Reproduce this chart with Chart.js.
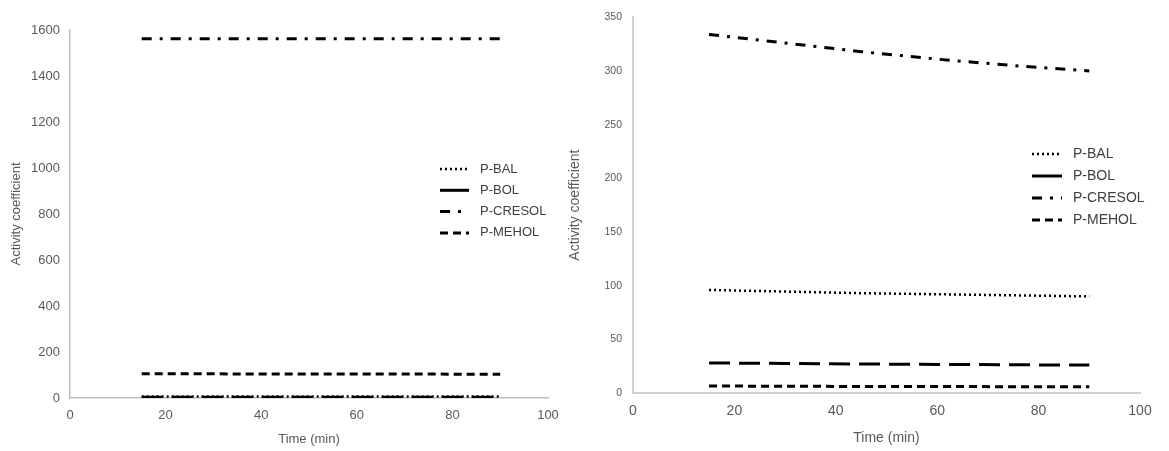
<!DOCTYPE html>
<html>
<head>
<meta charset="utf-8">
<script src="https://cdn.jsdelivr.net/npm/chart.js@4/dist/chart.umd.min.js"></script>
<style>
  html, body { margin: 0; padding: 0; background: #fff; }
  #wrap { position: relative; width: 1169px; height: 451px; overflow: hidden; }
  .box { position: absolute; top: 0; height: 451px; }
  #leftBox { left: 0; width: 580px; }
  #rightBox { left: 560px; width: 609px; }
</style>
</head>
<body>
<div id="wrap">
  <div class="box" id="leftBox"><canvas id="c1" width="580" height="451"></canvas></div>
  <div class="box" id="rightBox"><canvas id="c2" width="609" height="451"></canvas></div>
</div>
<script>
// ---- data ----
const seriesNames = ["P-BAL", "P-BOL", "P-CRESOL", "P-MEHOL"];
const times = [15, 30, 45, 60, 75, 90];

// left panel
const leftBAL    = [6, 6, 6, 6, 6, 6];
const leftBOL    = [3, 3, 3, 3, 3, 3];
const leftCRESOL = [1562, 1562, 1562, 1562, 1562, 1562];
const leftMEHOL  = [105, 105, 104, 104, 104, 103];

// right panel
const rightBAL    = [96, 94.5, 93, 92, 91, 90];
const rightBOL    = [28, 27.5, 27, 26.6, 26.3, 26];
const rightCRESOL = [334, 326, 318, 311, 305, 300];
const rightMEHOL  = [6.5, 6.3, 6.1, 6, 5.9, 5.8];

const xTicks = [0, 20, 40, 60, 80, 100];
const leftYTicks = [0, 200, 400, 600, 800, 1000, 1200, 1400, 1600];
const rightYTicks = [0, 50, 100, 150, 200, 250, 300, 350];

// ---- styles ----
const dashes = {
  "P-BAL": [2, 3],
  "P-BOL": [21, 9],
  "P-CRESOL": [10, 8, 3, 8],
  "P-MEHOL": [8, 5]
};

function mk(values) { return times.map((t, i) => ({ x: t, y: values[i] })); }
function datasets(arrs) {
  return seriesNames.map((n, i) => ({
    label: n,
    data: mk(arrs[i]),
    borderColor: '#000',
    borderWidth: n === 'P-BAL' ? 2.5 : 3,
    borderDash: dashes[n],
    borderCapStyle: 'butt',
    pointRadius: 0,
    fill: false,
    tension: 0
  }));
}

const legendPlugin = {
  id: 'customLegend',
  afterDraw(chart, args, opts) {
    const ctx = chart.ctx;
    ctx.save();
    chart.data.datasets.forEach((ds, i) => {
      const y = opts.y + i * opts.gap;
      ctx.beginPath();
      ctx.strokeStyle = ds.borderColor;
      ctx.lineWidth = ds.borderWidth;
      ctx.lineCap = 'butt';
      ctx.setLineDash(ds.label === 'P-BOL' ? [] : ds.borderDash);
      ctx.moveTo(opts.x, y);
      ctx.lineTo(opts.x + opts.len, y);
      ctx.stroke();
      ctx.setLineDash([]);
      ctx.fillStyle = '#404040';
      ctx.font = opts.size + 'px "Liberation Sans", Arial, sans-serif';
      ctx.textBaseline = 'middle';
      ctx.textAlign = 'left';
      ctx.fillText(ds.label, opts.x + opts.len + opts.textGap, y);
    });
    ctx.restore();
  }
};

function makeChart(id, arrs, cfg) {
  return new Chart(document.getElementById(id), {
    type: 'line',
    data: { datasets: datasets(arrs) },
    plugins: [legendPlugin],
    options: {
      responsive: false,
      animation: false,
      events: [],
      layout: { padding: { left: 0, right: cfg.padRight, top: cfg.padTop, bottom: 0 } },
      plugins: {
        legend: { display: false },
        tooltip: { enabled: false },
        customLegend: cfg.legend
      },
      scales: {
        x: {
          type: 'linear',
          min: 0, max: 100,
          afterBuildTicks: (s) => { s.ticks = xTicks.map(v => ({ value: v })); },
          afterFit: (s) => { s.height = cfg.xHeight; },
          grid: { display: false, drawTicks: false },
          border: { display: true, color: cfg.axisColor, width: cfg.axisWidth },
          ticks: { color: '#595959', padding: cfg.xTickPad, callback: (v) => String(v), font: { family: '"Liberation Sans", Arial', size: cfg.xTickSize } },
          title: { display: true, text: 'Time (min)', color: '#595959', padding: { top: 0, bottom: cfg.xTitlePad }, font: { family: '"Liberation Sans", Arial', size: cfg.titleSize } }
        },
        y: {
          type: 'linear',
          min: 0, max: cfg.yMax,
          afterBuildTicks: (s) => { s.ticks = cfg.yTicks.map(v => ({ value: v })); },
          afterFit: (s) => { s.width = cfg.yWidth; },
          grid: { display: false, drawTicks: false },
          border: { display: true, color: cfg.axisColor, width: cfg.axisWidth },
          ticks: { color: '#595959', padding: cfg.yTickPad, callback: (v) => String(v), font: { family: '"Liberation Sans", Arial', size: cfg.yTickSize } },
          title: { display: true, text: 'Activity coefficient', color: '#595959', padding: { top: cfg.yTitlePad, bottom: 0 }, font: { family: '"Liberation Sans", Arial', size: cfg.titleSize } }
        }
      }
    }
  });
}

makeChart('c1', [leftBAL, leftBOL, leftCRESOL, leftMEHOL], {
  padRight: 32, padTop: 30, xHeight: 53, yWidth: 70, yMax: 1600, yTicks: leftYTicks,
  axisColor: '#bfbfbf', axisWidth: 1.5,
  xTickPad: 10, xTickSize: 13, yTickPad: 10, yTickSize: 13, titleSize: 13,
  xTitlePad: 4, yTitlePad: 9,
  legend: { x: 440, y: 169, gap: 21.3, len: 29, textGap: 11, size: 13 }
});

makeChart('c2', [rightBAL, rightBOL, rightCRESOL, rightMEHOL], {
  padRight: 29, padTop: 17, xHeight: 58, yWidth: 73, yMax: 350, yTicks: rightYTicks,
  axisColor: '#d0d0d0', axisWidth: 2,
  xTickPad: 10, xTickSize: 14, yTickPad: 11, yTickSize: 10.5, titleSize: 14,
  xTitlePad: 4, yTitlePad: 7,
  legend: { x: 472, y: 154, gap: 22, len: 30, textGap: 11, size: 14 }
});
</script>
</body>
</html>
